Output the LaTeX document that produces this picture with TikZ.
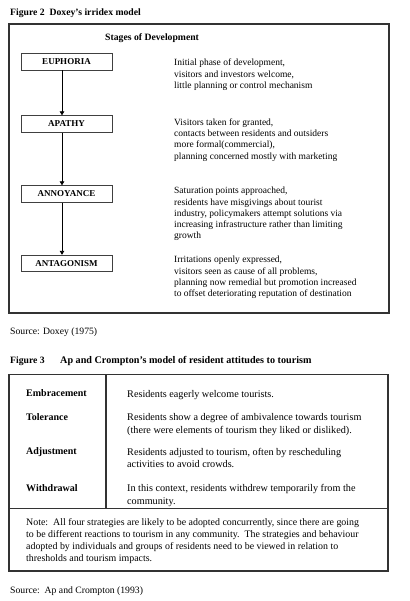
\documentclass[tikz,border=0pt]{standalone}
\usepackage{fontspec}
\setmainfont{Liberation Serif}
\usetikzlibrary{arrows.meta,positioning}
\tikzset{
  >={Triangle[length=4pt,width=4.5pt]},
  stage/.style={draw=black!75,line width=0.8pt,minimum width=91pt,minimum height=16.5pt,
    inner sep=0pt,font=\fontsize{9}{10}\selectfont\bfseries},
  desc/.style={anchor=north west,align=left,inner sep=0pt,font=\fontsize{9.5}{11.3}\selectfont},
  cell/.style={anchor=north west,align=left,inner sep=0pt,font=\fontsize{10.2}{12.8}\selectfont},
  label/.style={anchor=base west,inner sep=0pt,font=\fontsize{10}{12}\selectfont\bfseries},
  caption/.style={anchor=base west,inner sep=0pt,font=\fontsize{9.7}{11}\selectfont\bfseries},
  source/.style={anchor=base west,inner sep=0pt,font=\fontsize{9.7}{11}\selectfont},
  frame/.style={draw=black!80,line width=1.2pt},
  rule/.style={draw=black!80,line width=1.4pt},
  flow/.style={->,line width=0.8pt},
}
\begin{document}
\begin{tikzpicture}[x=1pt,y=-1pt]
  \useasboundingbox (0,0) rectangle (409,601);

  % Figure 2
  \node[caption] (fig2) at (10,15.5) {Figure 2\ \ Doxey's irridex model};
  \draw[frame] (9,24) rectangle (389,313);
  \node[caption] (stages) at (105,41) {Stages of Development};

  \node[stage] (eu) at (66.5,61.8) {EUPHORIA};
  \node[stage] (ap) at (66.5,124) {APATHY};
  \node[stage] (an) at (66.5,194) {ANNOYANCE};
  \node[stage] (ag) at (66.5,263.5) {ANTAGONISM};

  \draw[flow] ([xshift=-4.5pt]eu.south) -- ([xshift=-4.5pt]ap.north);
  \draw[flow] ([xshift=-4.5pt]ap.south) -- ([xshift=-4.5pt]an.north);
  \draw[flow] ([xshift=-4.5pt]an.south) -- ([xshift=-4.5pt]ag.north);

  \node[desc] (eutext) at (174,59) {Initial phase of development,\\visitors and investors welcome,\\little planning or control mechanism};
  \node[desc] (aptext) at (174,118.3) {Visitors taken for granted,\\contacts between residents and outsiders\\more formal(commercial),\\planning concerned mostly with marketing};
  \node[desc] (antext) at (174,187) {Saturation points approached,\\residents have misgivings about tourist\\industry, policymakers attempt solutions via\\increasing infrastructure rather than limiting\\growth};
  \node[desc] (agtext) at (174,256) {Irritations openly expressed,\\visitors seen as cause of all problems,\\planning now remedial but promotion increased\\to offset deteriorating reputation of destination};

  \node[source] (src2) at (10,334.5) {Source: Doxey (1975)};

  % Figure 3
  \node[caption] (fig3) at (10,363) {Figure 3};
  \node[caption,font=\fontsize{10.15}{11}\selectfont\bfseries] (fig3t) at (60,363) {Ap and Crompton's model of resident attitudes to tourism};
  \draw[rule] (9,374.3) rectangle (388,571);
  \draw[rule] (106,374.3) -- (106,508.3);
  \draw[rule] (9,508.3) -- (388,508.3);

  \node[label] (emb) at (26,396.5) {Embracement};
  \node[label] (tol) at (26,420) {Tolerance};
  \node[label] (adj) at (26,454) {Adjustment};
  \node[label] (wit) at (26,491) {Withdrawal};

  \node[cell] (embtext) at (127,390) {Residents eagerly welcome tourists.};
  \node[cell] (toltext) at (127,413.5) {Residents show a degree of ambivalence towards tourism\\(there were elements of tourism they liked or disliked).};
  \node[cell] (adjtext) at (127,447.8) {Residents adjusted to tourism, often by rescheduling\\activities to avoid crowds.};
  \node[cell] (wittext) at (127,484.5) {In this context, residents withdrew temporarily from the\\community.};

  \node[desc,font=\fontsize{9.9}{12}\selectfont] (note) at (26,518.5) {Note:\ \ All four strategies are likely to be adopted concurrently, since there are going\\to be different reactions to tourism in any community.\ \ The strategies and behaviour\\adopted by individuals and groups of residents need to be viewed in relation to\\thresholds and tourism impacts.};

  \node[source] (src3) at (10,593.5) {Source:\ \ Ap and Crompton (1993)};
\end{tikzpicture}
\end{document}
